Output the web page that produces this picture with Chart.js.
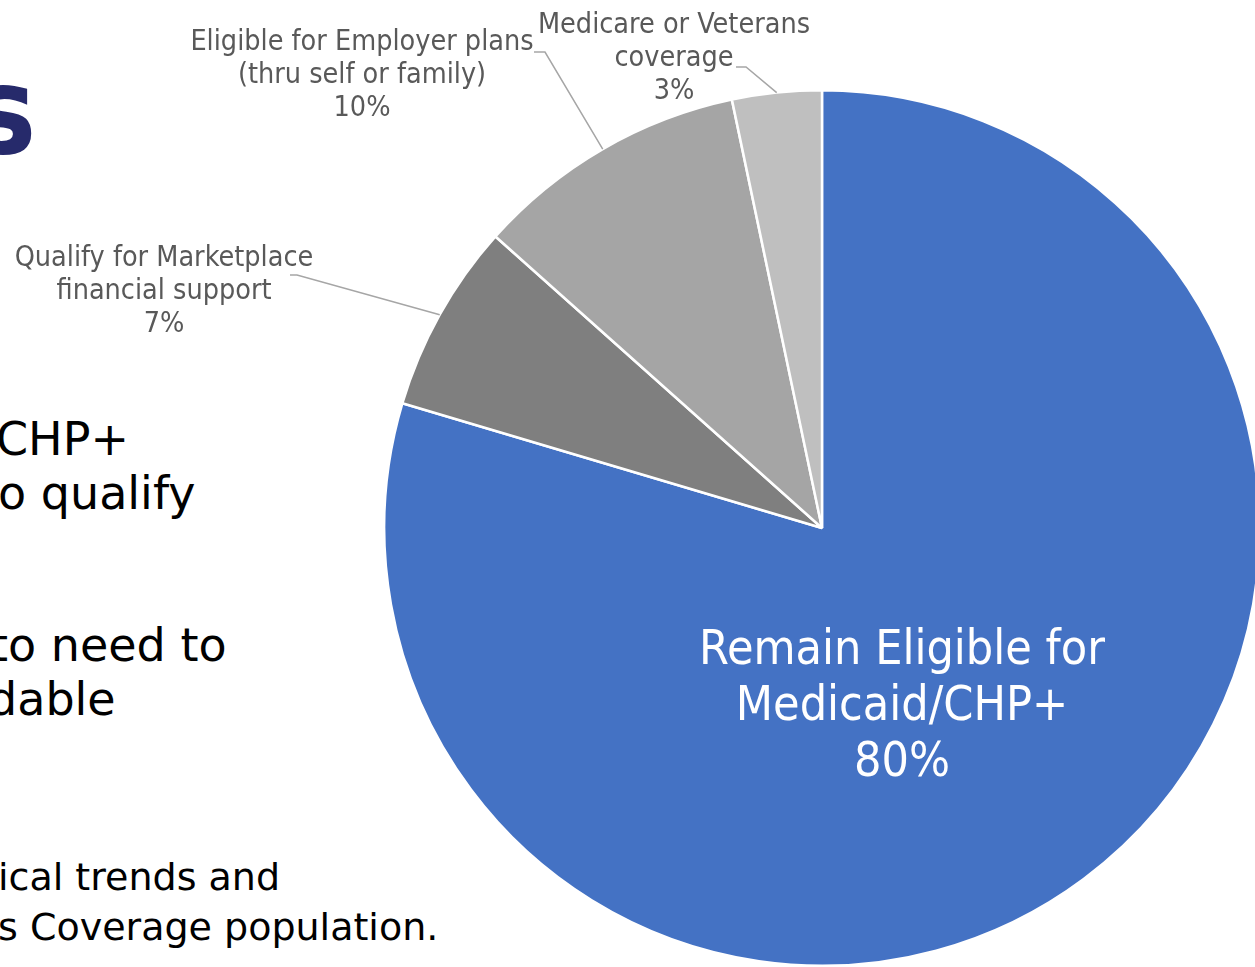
<!DOCTYPE html>
<html>
<head>
<meta charset="utf-8">
<script src="https://cdn.jsdelivr.net/npm/chart.js@4/dist/chart.umd.min.js"></script>
<style>
  html, body { margin: 0; padding: 0; background: #fff; overflow: hidden; }
  #page { position: relative; width: 1255px; height: 967px; overflow: hidden; }
  #pie { position: absolute; left: 0; top: 0; }
  .txt { position: absolute; white-space: nowrap; font-family: "DejaVu Sans", sans-serif; color: #000; }
  .title { font-family: "DejaVu Sans Condensed", "DejaVu Sans", sans-serif; font-weight: bold; color: #262a6b; font-size: 122px; line-height: 1; }
  .body { font-size: 46px; line-height: 1; }
  .small { font-size: 38px; line-height: 1; }
</style>
</head>
<body>
<div id="page">
  <!-- texto de la diapositiva, recortado por la izquierda -->
  <div class="txt title" style="left:-29px; top:50px;">s</div>
  <div class="txt body" style="left:-4px; top:416px;">CHP+</div>
  <div class="txt body" style="left:-20px; top:470px;">to qualify</div>
  <div class="txt body" style="left:-10px; top:622px;">to need to</div>
  <div class="txt body" style="left:-12px; top:676px;">dable</div>
  <div class="txt small" style="left:-2px; top:858px;">ical trends and</div>
  <div class="txt small" style="left:-2px; top:908px;">s Coverage population.</div>
  <canvas id="pie" width="1270" height="967"></canvas>
</div>
<script>
// ===============================
// Datos del gráfico
// ===============================
const categorias = [
    'Remain Eligible for Medicaid/CHP+',
    'Qualify for Marketplace financial support',
    'Eligible for Employer plans (thru self or family)',
    'Medicare or Veterans coverage'
];
const lineasEtiqueta = [
    ['Remain Eligible for', 'Medicaid/CHP+'],
    ['Qualify for Marketplace', 'financial support'],
    ['Eligible for Employer plans', '(thru self or family)'],
    ['Medicare or Veterans', 'coverage']
];
const porcentajes = [79.6, 7.0, 10.1, 3.3];
const colores = ['#4472c4', '#7f7f7f', '#a5a5a5', '#bfbfbf'];

// Posición de cada etiqueta (centro de la primera línea) y de su línea guía
const posEtiquetas = [
    { x: 902, y: 652, lh: 56, size: 48, color: '#ffffff', inside: true },
    { x: 164, y: 259, lh: 33, size: 28.5, color: '#595959', lead: [290, 275], knee: 297 },
    { x: 362, y: 43, lh: 33, size: 28.5, color: '#595959', lead: [534, 52], knee: 545 },
    { x: 674, y: 26, lh: 33, size: 28.5, color: '#595959', lead: [736, 67], knee: 746 }
];

const FUENTE = '"DejaVu Sans Condensed", "DejaVu Sans", sans-serif';

/**
 * Dibuja las etiquetas de cada porción con su línea guía hasta el borde del arco.
 */
const etiquetasPie = {
    id: 'etiquetasPie',
    afterDatasetsDraw(chart) {
        const ctx = chart.ctx;
        const meta = chart.getDatasetMeta(0);
        meta.data.forEach((arc, i) => {
            const p = arc.getProps(['x', 'y', 'startAngle', 'endAngle', 'outerRadius'], true);
            const pos = posEtiquetas[i];
            const mid = (p.startAngle + p.endAngle) / 2;
            ctx.save();
            if (!pos.inside) {
                const ex = p.x + Math.cos(mid) * p.outerRadius;
                const ey = p.y + Math.sin(mid) * p.outerRadius;
                ctx.strokeStyle = '#a6a6a6';
                ctx.lineWidth = 1.5;
                ctx.beginPath();
                ctx.moveTo(pos.lead[0], pos.lead[1]);
                ctx.lineTo(pos.knee, pos.lead[1]);
                ctx.lineTo(ex, ey);
                ctx.stroke();
            }
            const lineas = [...lineasEtiqueta[i], Math.round(porcentajes[i]) + '%'];
            ctx.fillStyle = pos.color;
            ctx.font = `${pos.size}px ${FUENTE}`;
            ctx.textAlign = 'center';
            ctx.textBaseline = 'middle';
            lineas.forEach((t, k) => ctx.fillText(t, pos.x, pos.y + k * pos.lh));
            ctx.restore();
        });
    }
};

new Chart(document.getElementById('pie').getContext('2d'), {
    type: 'pie',
    data: {
        labels: categorias,
        datasets: [{
            data: porcentajes,
            backgroundColor: colores,
            borderColor: '#ffffff',
            borderWidth: 2.5
        }]
    },
    options: {
        responsive: false,
        animation: false,
        layout: { padding: { left: 383, top: 89, right: 9, bottom: 0 } },
        plugins: {
            legend: { display: false },
            tooltip: { enabled: false }
        }
    },
    plugins: [etiquetasPie]
});
</script>
</body>
</html>
